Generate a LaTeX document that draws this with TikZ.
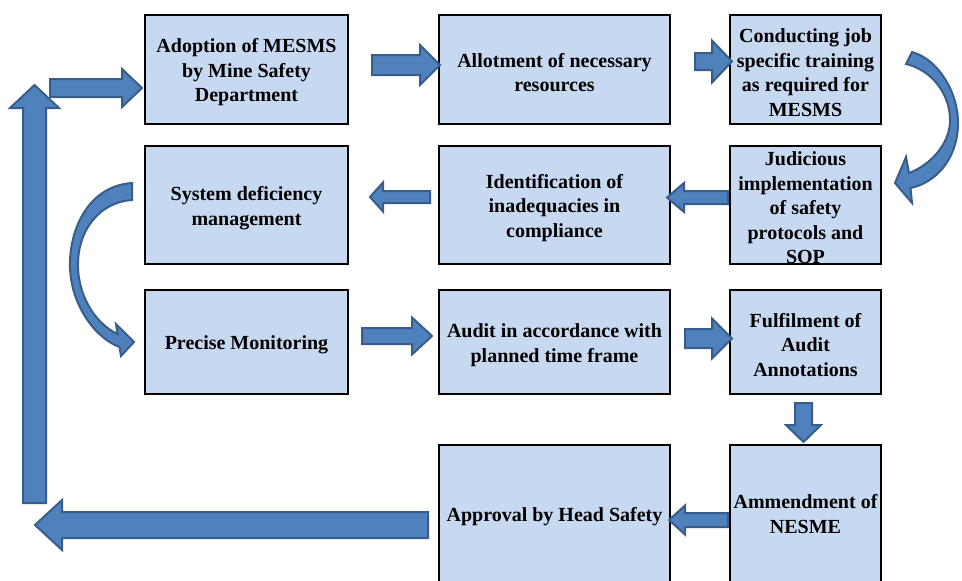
\documentclass[tikz,border=0pt]{standalone}
\usepackage{fontspec}
\setmainfont{Liberation Serif}
\usetikzlibrary{calc}
\definecolor{boxfill}{HTML}{C6D9F1}
\definecolor{arrfill}{HTML}{4F81BD}
\definecolor{arrline}{HTML}{385D8A}
\newcommand\topstrut{\rule{0pt}{20pt}}
\tikzset{
  stepbox/.style={draw=black, line width=1.9pt, fill=boxfill, inner sep=0pt, align=center,
    font=\fontsize{20}{24.5}\selectfont\bfseries},
  blockarrow/.style={fill=arrfill, draw=arrline, line width=2pt, line join=miter},
}
% #1 tail, #2 tip, #3 shaft half width, #4 head half width, #5 head length
\newcommand\blockarr[5]{%
  \draw[blockarrow] let \p1=(#1), \p2=(#2),
    \n1={atan2(\y2-\y1,\x2-\x1)}, \n2={veclen(\x2-\x1,\y2-\y1)} in
    [shift={(\p1)}, rotate=\n1]
    (0pt,-#3pt) -- (\n2-#5pt,-#3pt) -- (\n2-#5pt,-#4pt) -- (\n2,0pt)
    -- (\n2-#5pt,#4pt) -- (\n2-#5pt,#3pt) -- (0pt,#3pt) -- cycle;}
\begin{document}
\begin{tikzpicture}[x=1pt,y=-1pt]
\useasboundingbox (0,0) rectangle (962,581);
\clip (0,0) rectangle (962,581);

% boxes
\node[stepbox, minimum width=203pt, minimum height=109pt] (b1) at (246.5,69.5) {\topstrut Adoption of MESMS\\by Mine Safety\\Department};
\node[stepbox, minimum width=231pt, minimum height=109pt] (b2) at (554.5,69.5) {\topstrut Allotment of necessary\\resources};
\node[stepbox, minimum width=151pt, minimum height=109pt] (b3) at (805.5,69.5) {\topstrut Conducting job\\specific training\\as required for\\MESMS};
\node[stepbox, minimum width=151pt, minimum height=118pt] (b4) at (805.5,205) {\topstrut Judicious\\implementation\\of safety\\protocols and\\SOP};
\node[stepbox, minimum width=231pt, minimum height=118pt] (b5) at (554.5,205) {\topstrut Identification of\\inadequacies in\\compliance};
\node[stepbox, minimum width=203pt, minimum height=118pt] (b6) at (246.5,205) {\topstrut System deficiency\\management};
\node[stepbox, minimum width=203pt, minimum height=104pt] (b7) at (246.5,342) {\topstrut Precise Monitoring};
\node[stepbox, minimum width=231pt, minimum height=104pt] (b8) at (554.5,342) {\topstrut Audit in accordance with\\planned time frame};
\node[stepbox, minimum width=151pt, minimum height=104pt] (b9) at (805.5,342) {\topstrut Fulfilment of\\Audit\\Annotations};
\node[stepbox, minimum width=151pt, minimum height=138pt] (b10) at (805.5,514) {Ammendment of\\NESME};
\node[stepbox, minimum width=231pt, minimum height=138pt] (b11) at (554.5,514) {\topstrut Approval by Head Safety};

% arrow end points
\coordinate (upT) at (34.5,503);  \coordinate (upH) at (34.5,85);
\coordinate (a0T) at (50,88);     \coordinate (a0H) at (142,88);
\coordinate (a12T) at (372,65);   \coordinate (a12H) at (440,65);
\coordinate (a23T) at (695,61.5); \coordinate (a23H) at (732,61.5);
\coordinate (a45T) at (728,197.5);\coordinate (a45H) at (667,197.5);
\coordinate (a56T) at (430,197);  \coordinate (a56H) at (370,197);
\coordinate (a78T) at (362,336);  \coordinate (a78H) at (432,336);
\coordinate (a89T) at (685,338.5);\coordinate (a89H) at (732,338.5);
\coordinate (a910T) at (803.5,403);\coordinate (a910H) at (803.5,442);
\coordinate (a1011T) at (728,520);\coordinate (a1011H) at (669,520);
\coordinate (botT) at (428,525);  \coordinate (botH) at (35,525);

% straight block arrows
\blockarr{upT}{upH}{11.5}{24.5}{23}
\blockarr{a0T}{a0H}{9}{19}{20}
\blockarr{a12T}{a12H}{10}{20}{20}
\blockarr{a23T}{a23H}{8.5}{21}{20}
\blockarr{a45T}{a45H}{6.5}{14.5}{17}
\blockarr{a56T}{a56H}{6}{14.5}{13}
\blockarr{a78T}{a78H}{8}{18.5}{20}
\blockarr{a89T}{a89H}{9.5}{20}{20}
\blockarr{a910T}{a910H}{8.5}{17.5}{17}
\blockarr{a1011T}{a1011H}{7}{14.5}{16}
\blockarr{botT}{botH}{13}{25}{27}

% curved arrow on the right (box 3 to box 4)
\draw[blockarrow] (912,52) .. controls (940,60) and (959,95) .. (958,125)
  .. controls (957,160) and (935,183) .. (910.5,188) -- (912,203) -- (895,183)
  -- (906,157) -- (909,173) .. controls (930,165) and (949,145) .. (950,122)
  .. controls (951,95) and (932,70) .. (906,64) -- cycle;

% curved arrow on the left (box 6 to box 7)
\draw[blockarrow] (132,183) .. controls (88,186) and (69,230) .. (70,267)
  .. controls (71,305) and (95,338) .. (119.5,347) -- (121,356) -- (134,342)
  -- (116,324) -- (117.5,334) .. controls (98,325) and (79,300) .. (78,267)
  .. controls (77,230) and (100,202) .. (132,200) -- cycle;
\end{tikzpicture}
\end{document}
